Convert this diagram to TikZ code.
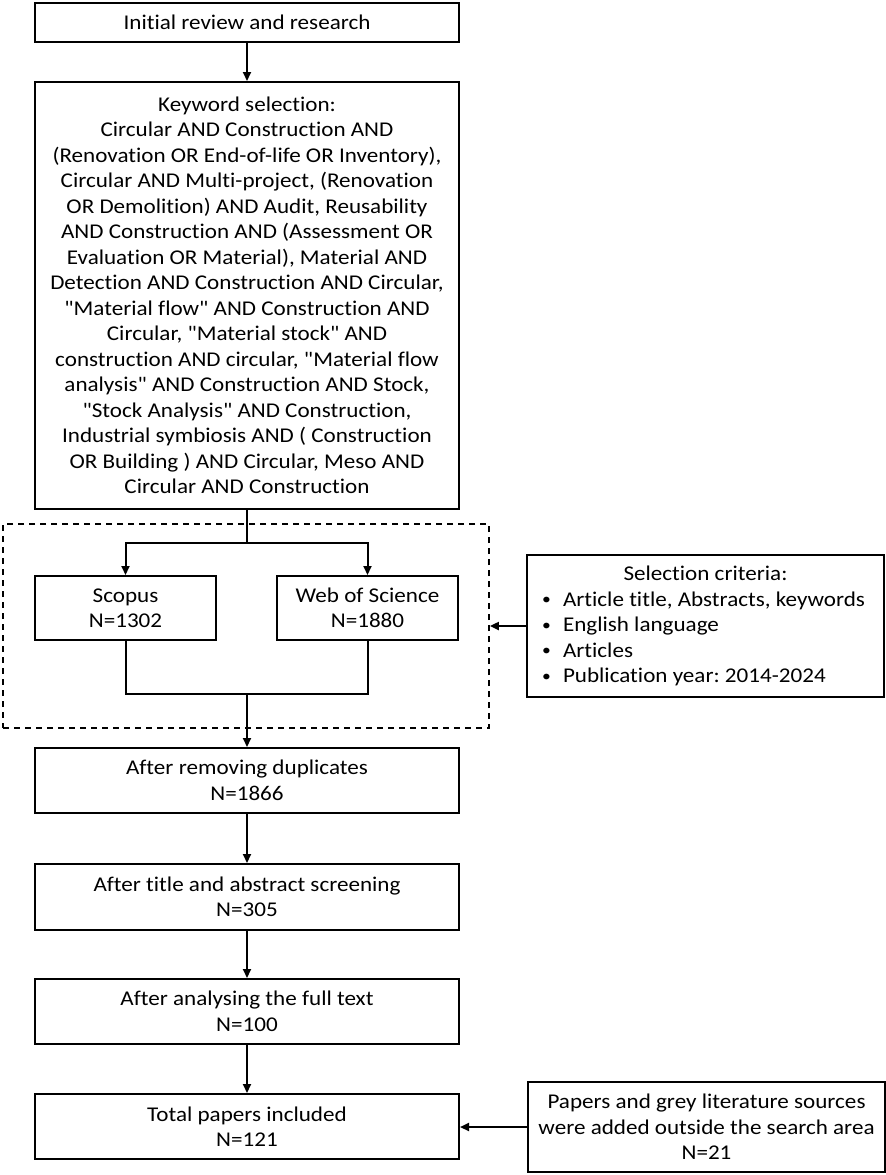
\documentclass[tikz,border=0pt]{standalone}
\usepackage{fontspec}
\setmainfont{Carlito}[FakeStretch=1.1, Ligatures=NoCommon]
\newfontfamily\plainq{Carlito}[FakeStretch=1.1]
\usetikzlibrary{arrows.meta}
\newcommand{\qd}{{\plainq\symbol{34}}}
\newcommand{\bul}{\makebox[10.5pt][l]{\raisebox{0.6pt}{\fontsize{8pt}{8pt}\selectfont\textbullet}}}
\frenchspacing
\begin{document}
\begin{tikzpicture}[x=0.5pt,y=-0.5pt,
  box/.style={draw, line width=1pt, inner sep=0pt, align=center,
    font=\fontsize{10.5pt}{12.75pt}\selectfont},
  wide/.style={box, minimum width=212pt, minimum height=32.5pt},
  small/.style={box, minimum width=90.5pt, minimum height=32pt},
  arr/.style={line width=1pt, -{Triangle[length=4.5pt,width=4pt]}},
  conn/.style={line width=1pt},
  dashbox/.style={draw, line width=0.9pt, dash pattern=on 3pt off 2.5pt, inner sep=0pt,
    minimum width=243pt, minimum height=102pt}]
\useasboundingbox (0,0) rectangle (886,1175);

\node[box, minimum width=212pt, minimum height=19.5pt] (init) at (247,22.5) {Initial review and research};
\node[box, minimum width=212pt, minimum height=213.5pt] (kw) at (247,295.5) {Keyword selection:\\
Circular AND Construction AND\\
(Renovation OR End-of-life OR Inventory),\\
Circular AND Multi-project, (Renovation\\
OR Demolition) AND Audit, Reusability\\
AND Construction AND (Assessment OR\\
Evaluation OR Material), Material AND\\
Detection AND Construction AND Circular,\\
\qd Material flow\qd{} AND Construction AND\\
Circular, \qd Material stock\qd{} AND\\
construction AND circular, \qd Material flow\\
analysis\qd{} AND Construction AND Stock,\\
\qd Stock Analysis\qd{} AND Construction,\\
Industrial symbiosis AND ( Construction\\
OR Building ) AND Circular, Meso AND\\
Circular AND Construction};

\node[dashbox] (dash) at (246,626) {};
\node[small] (scopus) at (125.5,608) {Scopus\\N=1302};
\node[small] (wos) at (367.5,608) {Web of Science\\N=1880};

\node[box, minimum width=178.5pt, minimum height=71pt, text width=163.5pt, align=flush left] (sel) at (705.5,626) {%
\makebox[\linewidth][c]{Selection criteria:}\\
\bul Article title, Abstracts, keywords\\
\bul English language\\
\bul Articles\\
\bul Publication year: 2014-2024};

\node[wide] (dup) at (247,780.5) {After removing duplicates\\N=1866};
\node[wide, minimum height=33pt] (title) at (247,897) {After title and abstract screening\\N=305};
\node[wide] (full) at (247,1011.5) {After analysing the full text\\N=100};
\node[wide] (total) at (247,1126.5) {Total papers included\\N=121};
\node[box, minimum width=178.5pt, minimum height=45pt] (papers) at (706.5,1127) {Papers and grey literature sources\\were added outside the search area\\N=21};

\coordinate (split) at (247,543);
\coordinate (merge) at (247,694);

\draw[arr] (init) -- (kw);
\draw[conn] (kw.south) -- (split);
\draw[arr] (split) -| (scopus.north);
\draw[arr] (split) -| (wos.north);
\draw[conn] (scopus.south) |- (merge) -| (wos.south);
\draw[arr] (merge) -- (dup.north);
\draw[arr] (sel.west) -- (sel.west -| dash.east);
\draw[arr] (dup) -- (title);
\draw[arr] (title) -- (full);
\draw[arr] (full) -- (total);
\draw[arr] (papers.west) -- (papers.west -| total.east);
\end{tikzpicture}
\end{document}
